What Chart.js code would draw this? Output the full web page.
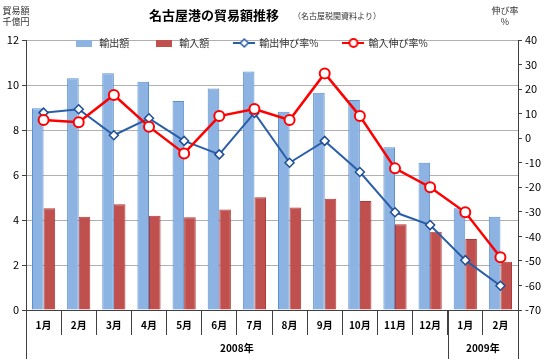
<!DOCTYPE html>
<html>
<head>
<meta charset="utf-8">
<script src="https://cdn.jsdelivr.net/npm/chart.js@4"></script>
<style>
  body { margin: 0; background: #fff; }
</style>
</head>
<body>
<canvas id="tradeChart" width="550" height="360"></canvas>
<script>
// data (千億円 / %)
const months = ["1月", "2月", "3月", "4月", "5月", "6月", "7月", "8月", "9月", "10月", "11月", "12月", "1月", "2月"];
const years = [
  { label: "2008年", from: 0, to: 11 },
  { label: "2009年", from: 12, to: 13 },
];
const exportAmount = [8.97, 10.3, 10.52, 10.15, 9.29, 9.85, 10.6, 8.81, 9.66, 9.33, 7.23, 6.55, 4.52, 4.15];
const importAmount = [4.52, 4.15, 4.7, 4.19, 4.12, 4.47, 5.01, 4.56, 4.95, 4.84, 3.81, 3.48, 3.16, 2.15];
const exportGrowth = [10.4, 11.8, 1.2, 8.1, -1.1, -6.6, 10.3, -10.0, -1.1, -13.8, -30.2, -35.4, -49.7, -60.1];
const importGrowth = [7.4, 6.5, 17.6, 4.7, -6.2, 9.0, 11.9, 7.4, 26.4, 9.0, -12.3, -20.0, -30.2, -48.5];

const FONT = "'Noto Sans CJK JP', 'Noto Sans', sans-serif";
const BLUE_BAR = "#8db3e2";
const RED_BAR = "#c0504d";
const BLUE_LINE = "#2a5ea8";
const RED_LINE = "#ff0000";

// small canvases used as legend symbols
function legendIcon(kind, color) {
  const c = document.createElement("canvas");
  const g = c.getContext("2d");
  if (kind === "rect") {
    c.width = 16; c.height = 7;
    g.fillStyle = color;
    g.fillRect(0, 0, 16, 7);
  } else {
    c.width = 22; c.height = 12;
    g.strokeStyle = color;
    g.lineWidth = 2;
    g.beginPath(); g.moveTo(0, 6); g.lineTo(22, 6); g.stroke();
    g.fillStyle = "#fff";
    g.beginPath();
    if (kind === "diamond") {
      g.lineWidth = 1.5;
      g.moveTo(11, 2); g.lineTo(15, 6); g.lineTo(11, 10); g.lineTo(7, 6); g.closePath();
    } else {
      g.arc(11, 6, 4, 0, Math.PI * 2);
    }
    g.fill(); g.stroke();
  }
  return c;
}
const icons = [
  legendIcon("rect", BLUE_BAR),
  legendIcon("rect", RED_BAR),
  legendIcon("diamond", BLUE_LINE),
  legendIcon("circle", RED_LINE),
];

const decor = {
  id: "decor",
  beforeInit(chart) {
    // let the legend sit inside the plot area like the Excel original
    const fit = chart.legend.fit;
    chart.legend.fit = function () {
      fit.call(this);
      this.height = 27;
    };
  },
  afterLayout(chart) {
    const lg = chart.legend;
    lg.left -= 24;
    lg.right -= 24;
    lg.bottom += 40;
    lg.height += 40;
  },
  afterDraw(chart) {
    const ctx = chart.ctx;
    const x = chart.scales.x;
    const bottom = chart.chartArea.bottom;
    ctx.save();
    // year group separators
    ctx.strokeStyle = "#404040";
    ctx.lineWidth = 1;
    [-0.5, 11.5, 13.5].forEach(v => {
      const px = Math.round(x.getPixelForValue(v)) + 0.5;
      ctx.beginPath();
      ctx.moveTo(px, bottom);
      ctx.lineTo(px, 359);
      ctx.stroke();
    });
    ctx.fillStyle = "#000";
    ctx.textAlign = "center";
    ctx.textBaseline = "middle";
    ctx.font = "bold 10px " + FONT;
    years.forEach(y => {
      const cx = x.getPixelForValue((y.from + y.to) / 2);
      ctx.fillText(y.label, cx, bottom + 38);
    });
    // titles
    ctx.font = "bold 13px " + FONT;
    ctx.fillText("名古屋港の貿易額推移", 214, 15);
    ctx.font = "8px " + FONT;
    ctx.fillStyle = "#333";
    ctx.fillText("（名古屋税関資料より）", 337, 16);
    ctx.font = "9px " + FONT;
    ctx.fillText("貿易額", 16, 11);
    ctx.fillText("千億円", 16, 22);
    ctx.fillText("伸び率", 505, 11);
    ctx.fillText("%", 505, 22);
    ctx.restore();
  },
};

new Chart(document.getElementById("tradeChart"), {
  type: "bar",
  data: {
    labels: months,
    datasets: [
      {
        label: "輸出額",
        data: exportAmount,
        backgroundColor: BLUE_BAR,
        borderColor: "#5b8fcf",
        borderWidth: 1,
        categoryPercentage: 0.66,
        barPercentage: 1.0,
        yAxisID: "y",
        order: 3,
      },
      {
        label: "輸入額",
        data: importAmount,
        backgroundColor: RED_BAR,
        borderColor: "#b03a37",
        borderWidth: 1,
        categoryPercentage: 0.66,
        barPercentage: 1.0,
        yAxisID: "y",
        order: 3,
      },
      {
        type: "line",
        label: "輸出伸び率%",
        data: exportGrowth,
        borderColor: BLUE_LINE,
        borderWidth: 2,
        pointStyle: "rectRot",
        pointRadius: 4.5,
        pointBorderWidth: 1.5,
        pointBackgroundColor: "#fff",
        pointBorderColor: "#1f4e96",
        yAxisID: "y1",
        order: 2,
      },
      {
        type: "line",
        label: "輸入伸び率%",
        data: importGrowth,
        borderColor: RED_LINE,
        borderWidth: 2.5,
        pointStyle: "circle",
        pointRadius: 5,
        pointBorderWidth: 2,
        pointBackgroundColor: "#fff",
        pointBorderColor: RED_LINE,
        yAxisID: "y1",
        order: 1,
      },
    ],
  },
  options: {
    responsive: false,
    animation: false,
    layout: { padding: { top: 13, left: 0, right: 0, bottom: 0 } },
    plugins: {
      title: { display: false },
      tooltip: { enabled: false },
      legend: {
        position: "top",
        labels: {
          usePointStyle: true,
          pointStyleWidth: 20,
          padding: 25,
          color: "#333",
          font: { family: FONT, size: 10 },
          sort: (a, b) => a.datasetIndex - b.datasetIndex,
          generateLabels(chart) {
            const items = Chart.defaults.plugins.legend.labels.generateLabels(chart);
            items.forEach(it => { it.pointStyle = icons[it.datasetIndex]; });
            return items;
          },
        },
      },
    },
    scales: {
      x: {
        offset: true,
        afterFit(scale) { scale.height = 50; },
        border: { display: true, color: "#404040" },
        grid: {
          offset: true,
          drawOnChartArea: false,
          drawTicks: true,
          tickLength: 25,
          color: "#404040",
        },
        ticks: {
          padding: -16,
          color: "#000",
          font: { family: FONT, size: 10, weight: "bold" },
          maxRotation: 0,
          autoSkip: false,
        },
      },
      y: {
        position: "left",
        min: 0,
        max: 12,
        afterFit(scale) { scale.width = 26; },
        border: { display: true, color: "#404040" },
        grid: {
          color: "#b0b0b0",
          tickColor: "#404040",
          tickLength: 4,
        },
        ticks: {
          stepSize: 2,
          padding: 3,
          color: "#000",
          font: { family: FONT, size: 11 },
        },
      },
      y1: {
        position: "right",
        min: -70,
        max: 40,
        afterFit(scale) { scale.width = 32; },
        border: { display: true, color: "#404040" },
        grid: {
          drawOnChartArea: false,
          tickColor: "#404040",
          tickLength: 4,
        },
        ticks: {
          stepSize: 10,
          padding: 3,
          color: "#000",
          font: { family: FONT, size: 11 },
        },
      },
    },
  },
  plugins: [decor],
});
</script>
</body>
</html>
